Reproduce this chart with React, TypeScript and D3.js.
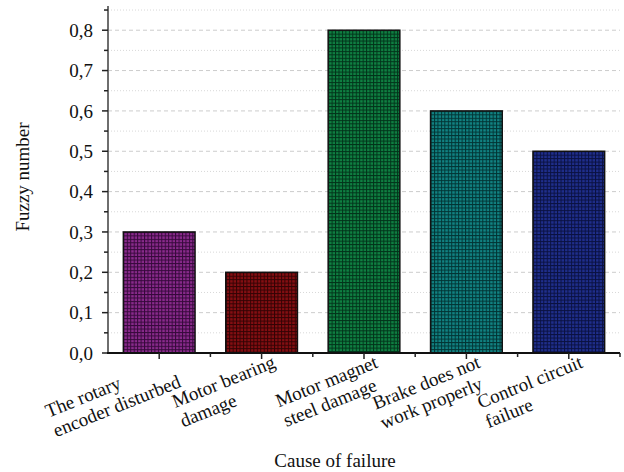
import React, { useMemo } from "react";
import * as d3 from "d3";

const categories: string[][] = [
  ["The rotary", "encoder disturbed"],
  ["Motor bearing", "damage"],
  ["Motor magnet", "steel damage"],
  ["Brake does not", "work properly"],
  ["Control circuit", "failure"],
];
const values: number[] = [0.3, 0.2, 0.8, 0.6, 0.5];
const barColors: string[] = ["#8a2a8c", "#850e12", "#0f8042", "#118282", "#1f2e8c"];
const lineColors: string[] = ["#35093a", "#330304", "#02331a", "#023434", "#0a1140"];
const yMajorTicks: number[] = [0, 0.1, 0.2, 0.3, 0.4, 0.5, 0.6, 0.7, 0.8];
const yMinorTicks: number[] = [0.05, 0.15, 0.25, 0.35, 0.45, 0.55, 0.65, 0.75, 0.85];
const xTitle = "Cause of failure";
const yTitle = "Fuzzy number";

const W = 624;
const H = 472;
const FONT = "'Liberation Serif', 'Times New Roman', serif";
const FS = 19;

function measure(text: string): number {
  const c = document.createElement("canvas").getContext("2d");
  if (!c) return text.length * FS * 0.45;
  c.font = `${FS}px 'Liberation Serif'`;
  return c.measureText(text).width;
}

export default function App() {
  const left = 108;
  const right = 620;
  const top = 6;
  const bottom = 353;

  const x = d3
    .scaleBand<number>()
    .domain(values.map((_, i) => i))
    .range([left, right])
    .paddingInner(0.3)
    .paddingOuter(0.15);
  const y = d3.scaleLinear().domain([0, 0.86]).range([bottom, top]);
  const fmt = (v: number) => d3.format(".1f")(v).replace(".", ",");
  const step = x.step();
  const edges = values.map((_, i) => (x(i) as number) - (step * 0.3) / 2).slice(1);
  edges.push(right);

  const widths = useMemo(
    () => categories.map((lines) => Math.max(...lines.map(measure))),
    []
  );
  const angle = -22;
  const lh = 21;

  return (
    <div style={{ position: "fixed", left: 0, top: 0 }}>
      <svg width={W} height={H} style={{ display: "block", background: "#fff" }}>
        <defs>
          {values.map((_, i) => {
            const p = 3.45;
            return (
              <pattern
                key={i}
                id={`pat${i}`}
                patternUnits="userSpaceOnUse"
                x={x(i)}
                y={y(values[i])}
                width={p}
                height={p}
              >
                <rect width={p} height={p} fill={barColors[i]} />
                <rect x={0} y={0} width={1} height={p} fill={lineColors[i]} />
                <rect x={0} y={0} width={p} height={1} fill={lineColors[i]} />
              </pattern>
            );
          })}
        </defs>

        {/* grid */}
        {yMinorTicks.map((t) => (
          <line
            key={"gm" + t}
            x1={left}
            x2={right}
            y1={y(t)}
            y2={y(t)}
            stroke="#d8d8d8"
            strokeWidth={1}
            strokeDasharray="1,2"
          />
        ))}
        {yMajorTicks.slice(1).map((t) => (
          <line
            key={"gM" + t}
            x1={left}
            x2={right}
            y1={y(t)}
            y2={y(t)}
            stroke="#cccccc"
            strokeWidth={1}
            strokeDasharray="4,3"
          />
        ))}

        {/* bars */}
        {values.map((v, i) => (
          <rect
            key={"b" + i}
            x={x(i)}
            y={y(v)}
            width={x.bandwidth()}
            height={bottom - y(v)}
            fill={`url(#pat${i})`}
            stroke="#111"
            strokeWidth={1.5}
          />
        ))}

        {/* y axis */}
        <line x1={left} x2={left} y1={top} y2={bottom} stroke="#6e6e6e" strokeWidth={2} />
        {yMajorTicks.map((t) => (
          <g key={"yt" + t}>
            <line x1={left - 6} x2={left} y1={y(t)} y2={y(t)} stroke="#222" strokeWidth={1.5} />
            <text
              x={left - 15}
              y={y(t)}
              dy="0.35em"
              textAnchor="end"
              fontFamily={FONT}
              fontSize={FS}
              fill="#111"
            >
              {fmt(t)}
            </text>
          </g>
        ))}
        {yMinorTicks.map((t) => (
          <line key={"ym" + t} x1={left - 4} x2={left} y1={y(t)} y2={y(t)} stroke="#222" strokeWidth={1.5} />
        ))}

        {/* x axis */}
        <line x1={left - 1} x2={right} y1={bottom} y2={bottom} stroke="#111" strokeWidth={2} />
        {values.map((_, i) => {
          const cx = (x(i) as number) + x.bandwidth() / 2;
          return (
            <line key={"xt" + i} x1={cx} x2={cx} y1={bottom} y2={bottom + 6} stroke="#222" strokeWidth={1.5} />
          );
        })}
        {edges.map((e, i) => (
          <line key={"xm" + i} x1={e} x2={e} y1={bottom} y2={bottom + 4} stroke="#222" strokeWidth={1.5} />
        ))}

        {/* category labels */}
        {categories.map((lines, i) => {
          const cx = (x(i) as number) + x.bandwidth() / 2;
          return (
            <g key={"cl" + i} transform={`translate(${cx + 15},${bottom + 14}) rotate(${angle})`}>
              {lines.map((ln, j) => (
                <text
                  key={j}
                  x={-widths[i]}
                  y={j * lh}
                  textAnchor="start"
                  fontFamily={FONT}
                  fontSize={FS}
                  fill="#111"
                >
                  {ln}
                </text>
              ))}
            </g>
          );
        })}

        {/* titles */}
        <text
          x={335}
          y={467}
          textAnchor="middle"
          fontFamily={FONT}
          fontSize={FS}
          fill="#111"
        >
          {xTitle}
        </text>
        <text
          transform={`translate(29,177) rotate(-90)`}
          textAnchor="middle"
          fontFamily={FONT}
          fontSize={FS}
          fill="#111"
        >
          {yTitle}
        </text>
      </svg>
    </div>
  );
}
